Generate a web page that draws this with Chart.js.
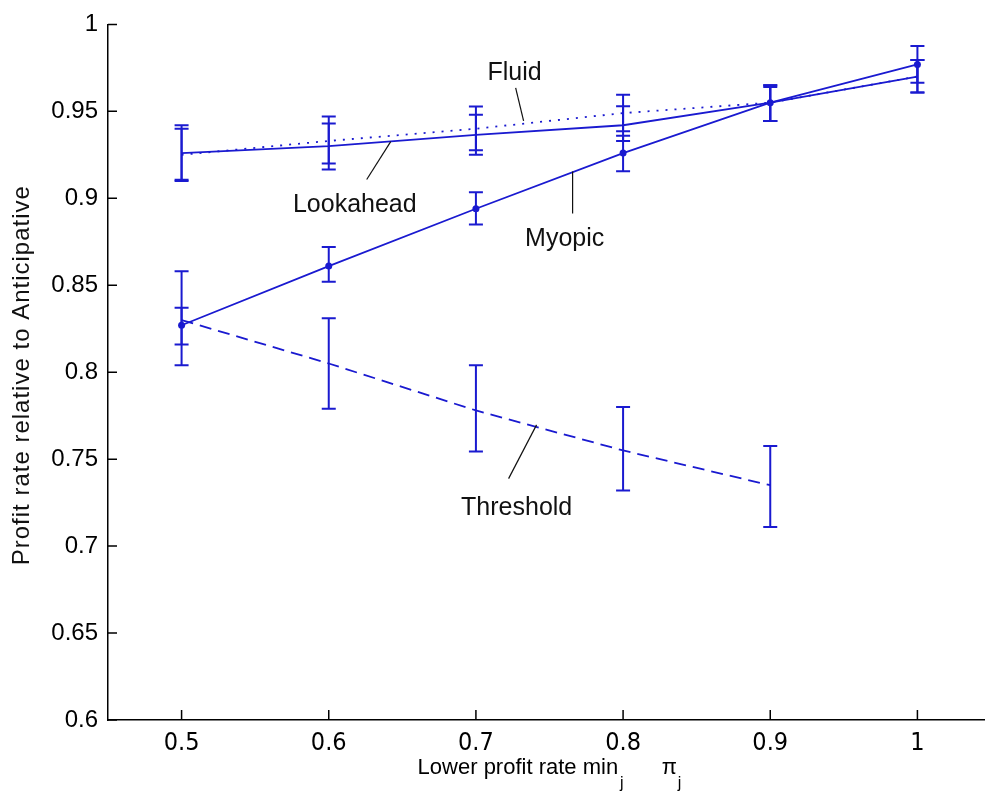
<!DOCTYPE html>
<html>
<head>
<meta charset="utf-8">
<script src="https://cdn.jsdelivr.net/npm/chart.js@4.4.1/dist/chart.umd.min.js"></script>
<style>
  html, body { margin:0; padding:0; background:#fff; overflow:hidden; }
  #wrap { width:1000px; height:794px; }
</style>
</head>
<body>
<div id="wrap"><canvas id="chart" width="1000" height="794"></canvas></div>
<script>
/* ===== Data ===== */
const xValues      = [0.5, 0.6, 0.7, 0.8, 0.9, 1.0];
const xTicks       = [0.5, 0.6, 0.7, 0.8, 0.9, 1.0];
const yTicks       = [0.6, 0.65, 0.7, 0.75, 0.8, 0.85, 0.9, 0.95, 1.0];

const myopic       = [0.827, 0.861, 0.894, 0.926, 0.955, 0.977];
const myopicLo     = [0.816, 0.852, 0.885, 0.9155, 0.9445, 0.9665];
const myopicHi     = [0.837, 0.872, 0.9035, 0.936, 0.965, 0.9876];

const lookahead    = [0.926, 0.930, 0.9365, 0.942, 0.955, 0.970];
const lookaheadLo  = [0.9106, 0.9165, 0.925, 0.933, 0.9445, 0.9608];
const lookaheadHi  = [0.940, 0.943, 0.948, 0.953, 0.964, 0.9795];

const fluid        = [0.925, 0.933, 0.940, 0.949, 0.955, 0.970];
const fluidLo      = [0.910, 0.920, 0.9276, 0.9386, 0.9445, 0.9608];
const fluidHi      = [0.942, 0.947, 0.9528, 0.9595, 0.965, 0.9795];

const threshold    = [0.830, 0.805, 0.778, 0.755, 0.735];
const thresholdLo  = [0.804, 0.779, 0.7544, 0.732, 0.711];
const thresholdHi  = [0.858, 0.831, 0.804, 0.780, 0.7575];

/* ===== Curve labels with leader lines (data units) ===== */
const curveLabels = [
  { text:'Fluid',     x:0.7263, y:0.9681, from:[0.7270, 0.9635], to:[0.7324, 0.9445] },
  { text:'Lookahead', x:0.6177, y:0.8924, from:[0.6258, 0.9108], to:[0.6421, 0.9326] },
  { text:'Myopic',    x:0.7603, y:0.8724, from:[0.7657, 0.8913], to:[0.7657, 0.9154] },
  { text:'Threshold', x:0.7277, y:0.7181, from:[0.7222, 0.7388], to:[0.7412, 0.7697] }
];

const BLUE = '#1a1ad0';
const pts = (xs, ys) => ys.map((v, i) => ({ x: xs[i], y: v }));

/* ===== Error bars ===== */
const errorBars = {
  id:'errorBars',
  afterDatasetsDraw(chart){
    const { ctx, scales:{ x, y } } = chart;
    chart.data.datasets.forEach(ds => {
      if (!ds.errLo) return;
      ctx.save();
      ctx.strokeStyle = ds.borderColor; ctx.lineWidth = 2; ctx.setLineDash([]);
      ctx.beginPath();
      ds.data.forEach((p, i) => {
        const px = x.getPixelForValue(p.x);
        const top = y.getPixelForValue(ds.errHi[i]), bot = y.getPixelForValue(ds.errLo[i]);
        ctx.moveTo(px, top); ctx.lineTo(px, bot);
        ctx.moveTo(px - 7, top); ctx.lineTo(px + 7, top);
        ctx.moveTo(px - 7, bot); ctx.lineTo(px + 7, bot);
      });
      ctx.stroke();
      ctx.restore();
    });
  }
};

/* ===== Inward ticks, labels, axis titles ===== */
const decorations = {
  id:'decorations',
  afterDraw(chart){
    const { ctx, chartArea:a, scales:{ x, y } } = chart;
    ctx.save();
    // inward tick marks
    ctx.strokeStyle = '#000'; ctx.lineWidth = 1.5; ctx.beginPath();
    xTicks.forEach(v => { const p = x.getPixelForValue(v); ctx.moveTo(p, a.bottom); ctx.lineTo(p, a.bottom - 10); });
    yTicks.forEach(v => { const p = y.getPixelForValue(v); ctx.moveTo(a.left, p); ctx.lineTo(a.left + 9, p); });
    ctx.stroke();

    // curve labels
    ctx.fillStyle = '#111'; ctx.strokeStyle = '#111'; ctx.lineWidth = 1.2;
    ctx.font = '25px "Liberation Sans", Arial, sans-serif';
    ctx.textAlign = 'center'; ctx.textBaseline = 'alphabetic';
    curveLabels.forEach(l => {
      ctx.fillText(l.text, x.getPixelForValue(l.x), y.getPixelForValue(l.y));
      ctx.beginPath();
      ctx.moveTo(x.getPixelForValue(l.from[0]), y.getPixelForValue(l.from[1]));
      ctx.lineTo(x.getPixelForValue(l.to[0]), y.getPixelForValue(l.to[1]));
      ctx.stroke();
    });

    // y title
    ctx.save();
    ctx.translate(22, (a.top + a.bottom) / 2 + 3);
    ctx.rotate(-Math.PI / 2);
    ctx.font = '24px "Liberation Sans", Arial, sans-serif';
    ctx.letterSpacing = '1px';
    ctx.textAlign = 'center'; ctx.textBaseline = 'middle';
    ctx.fillText('Profit rate relative to Anticipative', 0, 0);
    ctx.restore();

    // x title: "Lower profit rate min_j  π_j"
    const main = '22px "Liberation Sans", Arial, sans-serif';
    const sub = '16px "Liberation Sans", Arial, sans-serif';
    const parts = [
      { t:'Lower profit rate min', f:main, dy:0, gap:2 },
      { t:'j', f:sub, dy:14, gap:38 },
      { t:'π', f:main, dy:0, gap:1 },
      { t:'j', f:sub, dy:14, gap:0 }
    ];
    let total = 0;
    parts.forEach(p => { ctx.font = p.f; p.w = ctx.measureText(p.t).width; total += p.w + p.gap; });
    let cx = (a.left + a.right) / 2 - total / 2;
    const base = a.bottom + 54;
    ctx.textAlign = 'left'; ctx.textBaseline = 'alphabetic'; ctx.fillStyle = '#000';
    parts.forEach(p => { ctx.font = p.f; ctx.fillText(p.t, cx, base + p.dy); cx += p.w + p.gap; });
    ctx.restore();
  }
};

const fmt = v => String(Math.round(v * 100) / 100);

new Chart(document.getElementById('chart'), {
  type:'line',
  data:{
    datasets:[
      { label:'Fluid', data:pts(xValues, fluid), errLo:fluidLo, errHi:fluidHi,
        borderColor:BLUE, borderWidth:1.8, borderDash:[2,7], pointRadius:0 },
      { label:'Lookahead', data:pts(xValues, lookahead), errLo:lookaheadLo, errHi:lookaheadHi,
        borderColor:BLUE, borderWidth:1.8, pointRadius:0 },
      { label:'Myopic', data:pts(xValues, myopic), errLo:myopicLo, errHi:myopicHi,
        borderColor:BLUE, borderWidth:1.8, pointRadius:3.5, pointBackgroundColor:BLUE, pointBorderWidth:0 },
      { label:'Threshold', data:pts(xValues, threshold), errLo:thresholdLo, errHi:thresholdHi,
        borderColor:BLUE, borderWidth:1.8, borderDash:[12,7], pointRadius:0 }
    ]
  },
  options:{
    responsive:false, animation:false,
    layout:{ padding:{ top:22, right:9, left:0, bottom:0 } },
    plugins:{ legend:{ display:false }, tooltip:{ enabled:false } },
    elements:{ line:{ tension:0 } },
    scales:{
      x:{ type:'linear', min:0.45, max:1.05,
        afterBuildTicks: s => { s.ticks = xTicks.map(v => ({ value:v })); },
        afterFit: s => { s.height = 74; },
        grid:{ display:false, drawTicks:false },
        border:{ display:true, color:'#000', width:1.5 },
        ticks:{ color:'#000', padding:8, autoSkip:false, maxRotation:0, callback:fmt,
          font:{ family:'"Liberation Sans Narrow", "DejaVu Sans Condensed", Arial, sans-serif', size:25 } }
      },
      y:{ type:'linear', min:0.6, max:1.0,
        afterBuildTicks: s => { s.ticks = yTicks.map(v => ({ value:v })); },
        afterFit: s => { s.width = 108; },
        grid:{ display:false, drawTicks:false },
        border:{ display:true, color:'#000', width:1.5 },
        ticks:{ color:'#000', padding:10, autoSkip:false, callback:fmt,
          font:{ family:'"Liberation Sans", Arial, sans-serif', size:24 } }
      }
    }
  },
  plugins:[errorBars, decorations]
});
</script>
</body>
</html>
